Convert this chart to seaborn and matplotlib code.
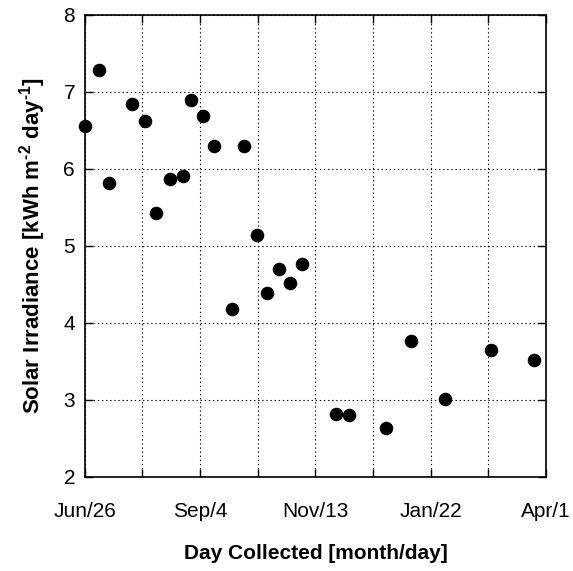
import matplotlib
matplotlib.use("Agg")
import matplotlib.pyplot as plt
import seaborn as sns
import pandas as pd
from matplotlib.ticker import MultipleLocator

# Days since Jun/26 and irradiance values
days = [0.4, 8.5, 14.6, 28.7, 36.5, 43.5, 51.6, 59.7, 64.4, 71.7, 78.4, 89.5,
        96.4, 104.5, 110.7, 117.8, 124.8, 131.8, 152.5, 160.4, 182.6, 197.8,
        218.7, 246.6, 272.9]
irradiance = [6.56, 7.29, 5.82, 6.84, 6.62, 5.42, 5.87, 5.91, 6.90, 6.69, 6.29,
              4.18, 6.29, 5.14, 4.39, 4.70, 4.52, 4.77, 2.82, 2.80, 2.63, 3.76,
              3.01, 3.65, 3.52]
tick_days = [0, 70, 140, 210, 280]
tick_labels = ["Jun/26", "Sep/4", "Nov/13", "Jan/22", "Apr/1"]

df = pd.DataFrame({"day": days, "irr": irradiance})

sns.set_style("white")
plt.rcParams["font.family"] = ["Liberation Sans", "DejaVu Sans"]
plt.rcParams["mathtext.fontset"] = "custom"
plt.rcParams["mathtext.rm"] = "Liberation Sans:bold"
plt.rcParams["mathtext.default"] = "rm"
plt.rcParams["text.color"] = "black"
plt.rcParams["axes.labelcolor"] = "black"
plt.rcParams["xtick.color"] = "black"
plt.rcParams["ytick.color"] = "black"

fig = plt.figure(figsize=(5.73, 5.71), dpi=100)
ax = fig.add_axes([0.148, 0.165, 0.805, 0.809])

sns.scatterplot(data=df, x="day", y="irr", ax=ax, color="black", s=95,
                edgecolor="black", linewidth=0, zorder=5, clip_on=False)

ax.set_xlim(0, 280)
ax.set_ylim(2, 8)
ax.set_xticks(tick_days)
ax.set_xticklabels(tick_labels)
ax.xaxis.set_minor_locator(MultipleLocator(35))
ax.yaxis.set_major_locator(MultipleLocator(1))

ax.grid(True, which="both", axis="x", linestyle=(0, (1.2, 2.5)), color="black", linewidth=0.8)
ax.grid(True, which="major", axis="y", linestyle=(0, (1.2, 2.5)), color="black", linewidth=0.8)

for s in ax.spines.values():
    s.set_color("black")
    s.set_linewidth(1.2)

ax.tick_params(which="both", direction="in", top=True, right=True,
               bottom=True, left=True, length=6, width=1, color="black")
ax.tick_params(which="major", labelsize=15, labelcolor="black")
ax.tick_params(axis="x", which="major", pad=18)
ax.tick_params(axis="y", which="major", pad=7)

ax.set_xlabel("Day Collected [month/day]", fontsize=15, fontweight="bold",
              labelpad=17, color="black")
ax.set_ylabel(r"Solar Irradiance [kWh m$^{\text{-}2}$ day$^{\text{-}1}$]", fontsize=16,
              fontweight="bold", labelpad=11, color="black")

fig.savefig("out.png", dpi=100)
